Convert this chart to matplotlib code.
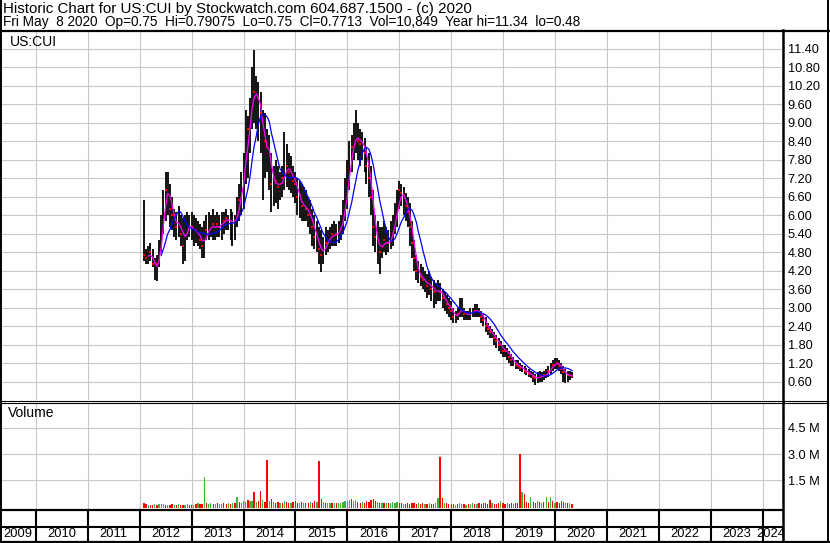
import matplotlib
matplotlib.use("Agg")
import matplotlib.pyplot as plt
import matplotlib.dates as mdates
from matplotlib.lines import Line2D
import numpy as np
import pandas as pd

plt.rcParams["font.family"] = ["Liberation Sans", "DejaVu Sans"]

title_line = "Historic Chart for US:CUI by Stockwatch.com 604.687.1500 - (c) 2020"
info_line = ("Fri May  8 2020  Op=0.75  Hi=0.79075  Lo=0.75  Cl=0.7713  "
             "Vol=10,849  Year hi=11.34  lo=0.48")
symbol = "US:CUI"

# semi-monthly bars, Feb 2012 .. May 2020
dates = pd.date_range("2012-02-01", "2020-05-01", freq="SMS")

high_2012 = [6.5, 4.9, 5.0, 5.1, 4.9, 4.6, 4.7, 5.2, 6.0, 6.8, 7.4, 7.4, 7.0, 6.6, 6.2, 6.1, 6.3, 6.0, 5.9, 6.0, 6.1, 6.0]
low_2012 = [4.5, 4.4, 4.4, 4.5, 4.3, 3.9, 3.85, 4.3, 4.8, 5.4, 5.8, 6.0, 5.6, 5.5, 5.3, 5.2, 5.3, 5.0, 4.4, 4.5, 5.2, 5.3]
close_2012 = [4.7, 4.6, 4.7, 4.8, 4.4, 4.2, 4.4, 4.9, 5.6, 6.4, 6.8, 6.9, 6.2, 6.0, 5.7, 5.6, 5.9, 5.4, 5.0, 5.5, 5.7, 5.6]

high_2013 = [6.1, 6.0, 5.9, 5.8, 5.7, 5.6, 5.8, 6.0, 6.1, 6.0, 6.2, 6.0, 6.1, 6.0, 6.1, 6.1, 6.2, 6.0, 6.2, 6.1, 6.0, 6.6, 7.0, 7.4]
low_2013 = [5.2, 5.0, 5.1, 5.0, 4.9, 4.6, 4.6, 5.2, 5.2, 5.3, 5.2, 5.2, 5.3, 5.3, 5.2, 5.4, 5.5, 5.5, 5.2, 5.0, 5.2, 5.6, 5.8, 6.0]
close_2013 = [5.6, 5.4, 5.5, 5.3, 5.2, 5.0, 5.3, 5.5, 5.6, 5.6, 5.7, 5.5, 5.7, 5.6, 5.8, 5.8, 5.9, 5.8, 5.8, 5.7, 5.8, 6.2, 6.5, 7.0]

high_2014 = [8.0, 9.4, 9.2, 9.8, 10.8, 11.35, 10.5, 10.3, 10.0, 9.4, 9.3, 8.8, 8.6, 8.0, 7.6, 7.8, 7.6, 7.4, 7.6, 8.7, 8.3, 8.0, 7.9, 7.6]
low_2014 = [6.2, 7.0, 7.2, 8.0, 8.8, 9.0, 8.8, 8.4, 8.0, 6.5, 7.2, 7.4, 6.8, 6.1, 6.3, 6.4, 6.2, 6.5, 6.6, 6.8, 6.9, 6.8, 6.7, 6.6]
close_2014 = [7.4, 8.5, 8.8, 9.2, 10.2, 10.0, 9.6, 9.8, 9.3, 8.0, 8.4, 8.2, 7.8, 7.0, 7.0, 7.1, 6.9, 7.0, 7.2, 7.5, 7.6, 7.4, 7.3, 7.1]

high_2015 = [7.4, 7.2, 7.1, 7.0, 6.9, 6.8, 6.6, 6.5, 6.2, 6.0, 5.8, 5.6, 5.5, 5.3, 5.6, 5.5, 5.6, 5.7, 5.8, 5.7, 5.8, 6.0, 6.5, 7.2]
low_2015 = [6.4, 6.0, 5.9, 5.8, 5.8, 5.8, 5.6, 5.4, 5.0, 4.9, 4.8, 4.4, 4.15, 4.4, 4.7, 4.8, 4.9, 5.0, 5.0, 5.0, 5.1, 5.2, 5.4, 5.8]
close_2015 = [7.0, 6.6, 6.4, 6.3, 6.3, 6.2, 6.0, 5.9, 5.6, 5.3, 5.2, 4.9, 4.7, 4.9, 5.1, 5.2, 5.3, 5.4, 5.3, 5.4, 5.5, 5.7, 6.0, 6.6]

high_2016 = [7.8, 8.4, 8.6, 9.0, 9.4, 9.0, 8.8, 8.7, 8.5, 8.2, 8.0, 7.6, 6.8, 6.0, 5.8, 5.6, 5.6, 5.8, 5.6, 5.5, 5.8, 6.0, 6.4, 6.8]
low_2016 = [6.2, 6.8, 7.4, 7.8, 8.0, 7.8, 7.6, 7.8, 7.4, 7.0, 6.6, 6.0, 5.0, 4.8, 4.4, 4.1, 4.6, 4.8, 4.7, 4.8, 4.9, 5.0, 5.4, 5.6]
close_2016 = [7.2, 7.8, 8.2, 8.5, 8.6, 8.4, 8.3, 8.4, 8.0, 7.6, 7.2, 6.6, 5.6, 5.3, 5.0, 4.8, 5.1, 5.2, 5.0, 5.1, 5.3, 5.6, 6.0, 6.3]

high_2017 = [7.1, 7.0, 6.9, 6.7, 6.6, 6.4, 5.8, 5.2, 4.7, 4.5, 4.4, 4.3, 4.2, 4.1, 4.2, 4.0, 3.9, 3.8, 3.9, 3.8, 3.6, 3.5, 3.4, 3.3]
low_2017 = [6.2, 6.3, 6.0, 5.8, 5.6, 5.0, 4.6, 4.2, 3.9, 3.8, 3.7, 3.6, 3.5, 3.3, 3.4, 3.2, 3.0, 3.1, 3.2, 3.2, 3.0, 2.9, 2.8, 2.7]
close_2017 = [6.8, 6.7, 6.5, 6.3, 6.1, 5.6, 5.1, 4.6, 4.2, 4.0, 4.0, 3.9, 3.8, 3.7, 3.8, 3.6, 3.5, 3.5, 3.6, 3.5, 3.3, 3.2, 3.1, 3.0]

high_2018 = [3.2, 3.0, 2.9, 3.0, 3.3, 3.3, 3.0, 2.9, 2.9, 3.0, 3.0, 3.1, 3.1, 3.0, 2.9, 2.8, 2.7, 2.5, 2.4, 2.3, 2.2, 2.1, 2.0, 1.9]
low_2018 = [2.6, 2.5, 2.5, 2.6, 2.7, 2.7, 2.6, 2.6, 2.6, 2.6, 2.7, 2.7, 2.7, 2.7, 2.5, 2.4, 2.2, 2.1, 2.0, 2.0, 1.8, 1.7, 1.6, 1.5]
close_2018 = [2.9, 2.7, 2.7, 2.8, 3.0, 2.9, 2.8, 2.75, 2.8, 2.8, 2.9, 2.9, 2.9, 2.85, 2.7, 2.6, 2.4, 2.3, 2.2, 2.1, 2.0, 1.9, 1.8, 1.7]

high_2019 = [1.8, 1.8, 1.7, 1.6, 1.5, 1.4, 1.3, 1.3, 1.2, 1.15, 1.1, 1.05, 1.0, 0.95, 0.9, 0.85, 0.9, 0.95, 0.9, 0.95, 1.0, 1.1, 1.2, 1.3]
low_2019 = [1.4, 1.4, 1.3, 1.2, 1.1, 1.1, 1.0, 1.0, 0.95, 0.9, 0.85, 0.8, 0.75, 0.7, 0.6, 0.5, 0.55, 0.6, 0.6, 0.65, 0.7, 0.75, 0.85, 0.95]
close_2019 = [1.6, 1.6, 1.5, 1.4, 1.3, 1.2, 1.15, 1.1, 1.05, 1.0, 0.95, 0.9, 0.85, 0.8, 0.75, 0.7, 0.7, 0.8, 0.75, 0.8, 0.85, 0.95, 1.05, 1.15]

high_2020 = [1.35, 1.35, 1.3, 1.2, 1.1, 1.0, 0.95, 0.95, 0.9]
low_2020 = [1.0, 1.0, 0.95, 0.85, 0.6, 0.55, 0.6, 0.65, 0.7]
close_2020 = [1.2, 1.2, 1.1, 1.0, 0.9, 0.8, 0.8, 0.8, 0.77]

# volume in thousands of shares
vol_2012 = [150, 90, 70, 60, 80, 100, 70, 90, 120, 110, 80, 60, 70, 90, 80, 60, 100, 70, 60, 80, 90, 70]
vol_2013 = [80, 70, 90, 150, 100, 120, 1700, 200, 120, 150, 100, 130, 160, 110, 140, 180, 120, 150, 130, 200, 180, 550, 250, 200]
vol_2014 = [300, 250, 350, 280, 300, 830, 250, 300, 880, 350, 250, 2650, 300, 400, 250, 200, 250, 180, 200, 300, 250, 200, 180, 250]
vol_2015 = [300, 200, 180, 250, 200, 150, 200, 250, 200, 300, 250, 2600, 400, 250, 200, 180, 200, 150, 180, 200, 150, 200, 250, 300]
vol_2016 = [300, 350, 400, 300, 350, 250, 200, 250, 200, 300, 250, 350, 400, 300, 250, 200, 180, 200, 150, 180, 200, 250, 200, 250]
vol_2017 = [200, 150, 120, 100, 150, 120, 200, 150, 120, 180, 100, 150, 120, 100, 150, 120, 100, 150, 450, 2850, 480, 200, 150, 120]
vol_2018 = [100, 120, 80, 100, 150, 120, 100, 80, 120, 100, 150, 120, 100, 150, 120, 180, 150, 120, 350, 150, 100, 120, 150, 300]
vol_2019 = [150, 120, 150, 100, 150, 120, 180, 150, 3000, 830, 700, 250, 200, 500, 250, 200, 300, 250, 200, 250, 500, 250, 500, 270]
vol_2020 = [200, 250, 200, 300, 250, 200, 150, 150, 100]

# G = up period (green volume), R = down period (red)
direction = ("RRGRRGRGGGRGRRGRGRRGGR"
             "RGRGRRGRGGRGRGGRRGRGRGRG"
             "GGRGGRGRRGRRGRGRRGRGRRGR"
             "RRGRGRRGRRGRRGRGGRGRGGGG"
             "GGRGGRRGRRRRRRGRGRGRGGGG"
             "RRGRRRRRRGRRGRGRRGGRRGRR"
             "RRGRGGRGRGGRGRRRRRRGRRRG"
             "RRGRRGRRRGRRRGRRGRGRGRGR"
             "GRRRRGRGR")

price_ticks = [0.6, 1.2, 1.8, 2.4, 3.0, 3.6, 4.2, 4.8, 5.4, 6.0, 6.6, 7.2,
               7.8, 8.4, 9.0, 9.6, 10.2, 10.8, 11.4]
vol_ticks = [1.5e6, 3.0e6, 4.5e6]
vol_tick_labels = ["1.5 M", "3.0 M", "4.5 M"]
years = list(range(2009, 2025))

high = np.array(high_2012 + high_2013 + high_2014 + high_2015 + high_2016
                + high_2017 + high_2018 + high_2019 + high_2020)
low = np.array(low_2012 + low_2013 + low_2014 + low_2015 + low_2016
               + low_2017 + low_2018 + low_2019 + low_2020)
close = pd.Series(close_2012 + close_2013 + close_2014 + close_2015 + close_2016
                  + close_2017 + close_2018 + close_2019 + close_2020, index=dates)
volume = np.array(vol_2012 + vol_2013 + vol_2014 + vol_2015 + vol_2016
                  + vol_2017 + vol_2018 + vol_2019 + vol_2020) * 1000.0
down = np.array([c == "R" for c in direction])

ma_short = close.rolling(3).mean()
ma_long = close.rolling(9).mean()

W, H = 830, 543


def fx(px):
    return px / W


def fy(py):
    return 1 - py / H


fig = plt.figure(figsize=(W / 100, H / 100), dpi=100)
fig.patch.set_facecolor("white")

left, right = 2, 782
price_ax = fig.add_axes([fx(left), fy(400), fx(right) - fx(left), fy(31) - fy(400)])
vol_ax = fig.add_axes([fx(left), fy(509), fx(right) - fx(left), fy(403) - fy(509)])
strip_ax = fig.add_axes([fx(left), fy(541), fx(right) - fx(left), fy(509) - fy(541)])

x_start = pd.Timestamp("2009-05-07")
x_end = pd.Timestamp("2024-05-17")
year_starts = pd.to_datetime([f"{y}-01-01" for y in years[1:]])
grid_color = "#C8C8C8"

for ax in (price_ax, vol_ax, strip_ax):
    ax.set_xlim(x_start, x_end)
    for s in ax.spines.values():
        s.set_visible(False)
    ax.set_facecolor("white")
    ax.set_xticks(year_starts)
    ax.tick_params(axis="x", length=0, labelbottom=False)

# price panel
price_ax.set_ylim(0, 11.97)
price_ax.set_yticks(price_ticks)
price_ax.set_yticklabels([f"{v:.2f}" for v in price_ticks])
price_ax.yaxis.tick_right()
price_ax.tick_params(axis="y", length=0, pad=4, labelsize=9.2)
for t in price_ax.get_yticklabels():
    t.set_horizontalalignment("left")
price_ax.grid(True, color=grid_color, linewidth=0.8)
price_ax.set_axisbelow(True)

price_ax.vlines(dates, low, high, color="black", linewidth=1.3, zorder=2)
price_ax.plot(dates[down], close.values[down], linestyle="none", marker="s",
              markersize=1.6, color="#FF0000", markeredgewidth=0, zorder=3)
price_ax.plot(dates, ma_short.values, color="#FF00FF", linewidth=0.9, zorder=4)
price_ax.plot(dates, ma_long.values, color="#0000FF", linewidth=0.9, zorder=5)

# volume panel
vol_floor = -0.12e6
vol_ax.set_ylim(-0.17e6, 5.94e6)
vol_ax.set_yticks(vol_ticks)
vol_ax.set_yticklabels(vol_tick_labels)
vol_ax.yaxis.tick_right()
vol_ax.tick_params(axis="y", length=0, pad=4, labelsize=9.2)
for t in vol_ax.get_yticklabels():
    t.set_horizontalalignment("left")
vol_ax.grid(True, color=grid_color, linewidth=0.8)
vol_ax.set_axisbelow(True)
vol_colors = np.where(down, "#FF0000", "#3CB43C")
vol_ax.bar(dates, volume - vol_floor, bottom=vol_floor, width=9,
           color=vol_colors, linewidth=0, zorder=2)

# year strip
strip_ax.set_ylim(0, 1)
strip_ax.set_yticks([])
strip_ax.vlines(year_starts, 0, 1, color="black", linewidth=1.5)
strip_ax.axhline(14 / 32, color="black", linewidth=1.5)
x0 = mdates.date2num(x_start)
x1 = mdates.date2num(x_end)
days_per_px = (x1 - x0) / (right - left)
for y in years:
    if y == years[0]:
        strip_ax.text(x0 + 1 * days_per_px, 7 / 32, str(y), ha="left",
                      va="center", fontsize=9.3)
    elif y == years[-1]:
        strip_ax.text(x0 + 783 * days_per_px, 7 / 32, str(y), ha="right",
                      va="center", fontsize=9.3)
    else:
        c = mdates.date2num(pd.Timestamp(f"{y}-07-02"))
        strip_ax.text(c, 7 / 32, str(y), ha="center", va="center", fontsize=9.3)


# frame lines (figure pixels)
def hline(py, x0p, x1p, lw):
    fig.add_artist(Line2D([fx(x0p), fx(x1p)], [fy(py), fy(py)],
                          transform=fig.transFigure, color="black", linewidth=lw))


def vline(px, y0p, y1p, lw):
    fig.add_artist(Line2D([fx(px), fx(px)], [fy(y0p), fy(y1p)],
                          transform=fig.transFigure, color="black", linewidth=lw))


hline(30.5, 0, 830, 1.6)
hline(400.5, 0, 828, 0.8)
hline(403, 0, 828, 0.8)
hline(509.5, 0, 782, 1.6)
hline(527, 0, 782, 1.2)
hline(541.5, 0, 830, 1.6)
vline(0.8, 0, 543, 1.4)
vline(828, 0, 543, 1.4)
vline(782.5, 30, 542, 1.8)

fig.text(fx(3), fy(9), title_line, ha="left", va="center", fontsize=10.9)
fig.text(fx(3), fy(22), info_line, ha="left", va="center", fontsize=9.8)
fig.text(fx(10), fy(42), symbol, ha="left", va="center", fontsize=10)
fig.text(fx(8), fy(413), "Volume", ha="left", va="center", fontsize=10)

fig.savefig("out.png", dpi=100)
plt.close(fig)
